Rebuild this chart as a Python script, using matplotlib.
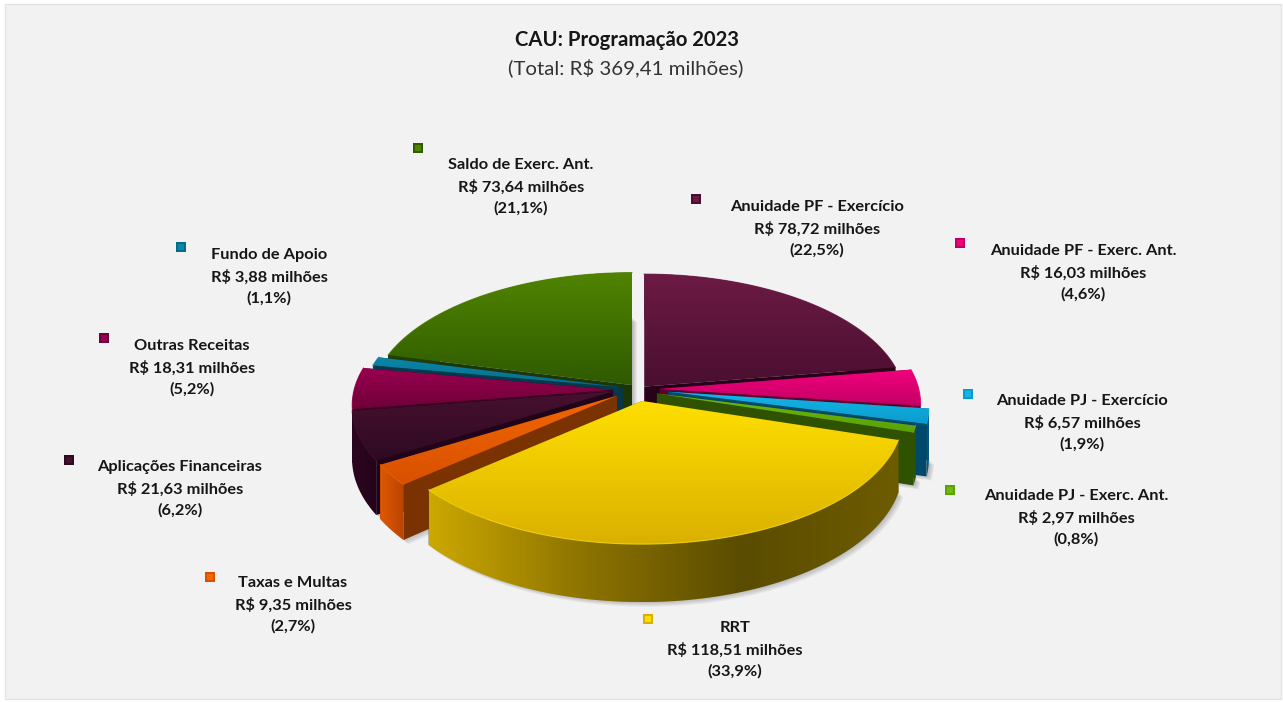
import numpy as np
import matplotlib
matplotlib.use("Agg")
import matplotlib.pyplot as plt
from matplotlib.colors import LinearSegmentedColormap
from matplotlib.patches import Polygon, Rectangle

plt.rcParams['font.family'] = ['Lato', 'DejaVu Sans']

# Data, clockwise from 12 o'clock
labels = ['Anuidade PF - Exercício', 'Anuidade PF - Exerc. Ant.', 'Anuidade PJ - Exercício',
          'Anuidade PJ - Exerc. Ant.', 'RRT', 'Taxas e Multas', 'Aplicações Financeiras',
          'Outras Receitas', 'Fundo de Apoio', 'Saldo de Exerc. Ant.']
values = [78.72, 16.03, 6.57, 2.97, 118.51, 9.35, 21.63, 18.31, 3.88, 73.64]
percents = ['22,5', '4,6', '1,9', '0,8', '33,9', '2,7', '6,2', '5,2', '1,1', '21,1']
explode = [0.025, 0.08, 0.114, 0.072, 0.097, 0.105, 0.107, 0.10, 0.065, 0.044]
title = 'CAU: Programação 2023'
subtitle = '(Total: R$ 369,41 milhões)'

# Colours: top gradient (light, dark), side wall, rim wall gradient
top_colors = [('#6c1a44', '#4a0f30'), ('#f2007c', '#c20064'), ('#14b6e8', '#0a9ccc'),
              ('#6eba0a', '#5aa008'), ('#ffdf00', '#dab000'), ('#f26600', '#d85000'),
              ('#46102f', '#2e0a22'), ('#9a0050', '#6e0038'), ('#0a88aa', '#086a88'),
              ('#508400', '#2f5a00')]
side_colors = ['#26031a', '#5c0030', '#00496a', '#2f5200', '#5a4c00', '#7a3200',
               '#22041a', '#3c0022', '#04384a', '#1c3608']
rim_colors = [('#3a0826', '#2a0418'), ('#8a0048', '#6a0038'), ('#005a80', '#004f70'),
              ('#305400', '#2e5200'),
              ('#cca800', '#8c7200', '#5a4c00', '#6e5c00'),
              ('#e05800', '#b84400'), ('#2c0620', '#24041a'), ('#4a0028', '#3c0022'),
              ('#04485e', '#04384a'), ('#20400a', '#1c3608')]

# Pie geometry in image pixels
CX, CY = 639, 388
A, B = 259, 126
K = 0.12
H = 51
# small per-slice corrections to the explode offset
nudge = [(1, 1), (0, 1), (0, 1), (0, 3), (-2, 1), (0, 0), (0, -1), (0, 2), (0, 1), (0, 1.5)]

# Label positions (x centre, first line y) and key positions
label_pos = [(817, 207), (1083, 251), (1082, 401), (1076, 496), (735, 628),
             (293, 583), (180, 467), (192, 346), (269, 255), (521, 165)]
key_pos = [(696, 199), (960, 243), (968, 394), (950, 490), (648, 619),
           (210, 577), (69, 460), (104, 338), (181, 247), (418, 148)]
draw_order = [0, 9, 8, 7, 1, 2, 3, 6, 5, 4]

fig = plt.figure(figsize=(12.83, 7.02), dpi=100, facecolor='white')
ax = fig.add_axes([0, 0, 1, 1])
ax.axis('off')


def rim(apex, t1, t2, drop=0.0):
    # Rim points of one slice between two angles, seen with perspective
    th = np.radians(np.linspace(t1, t2, 90))
    s = 1 / (1 + K * np.cos(th))
    return np.column_stack([apex[0] + A * np.sin(th) * s,
                            apex[1] - B * np.cos(th) * s + drop * s])


def grad_fill(verts, colors, horizontal=False, z=2):
    verts = np.asarray(verts)
    cmap = LinearSegmentedColormap.from_list('g', colors)
    grad = np.linspace(0, 1, 256)
    grad = grad.reshape(1, -1) if horizontal else grad.reshape(-1, 1)
    x0, y0 = verts.min(axis=0)
    x1, y1 = verts.max(axis=0)
    im = ax.imshow(grad, cmap=cmap, extent=(x0, x1, y1, y0), origin='upper',
                   aspect='auto', zorder=z, interpolation='bilinear')
    clip = Polygon(verts, closed=True, transform=ax.transData)
    im.set_clip_path(clip)


ax.add_patch(Rectangle((5, 4), 1276, 695, facecolor='#f2f2f2', edgecolor='#e4e4e4',
                       linewidth=1, zorder=0))

# Angles from the values
edges = np.concatenate([[0], np.cumsum(values)]) / np.sum(values) * 360
apexes = []
for i in range(len(values)):
    mid = np.radians((edges[i] + edges[i + 1]) / 2)
    apexes.append((CX + A * explode[i] * np.sin(mid) + nudge[i][0],
                   CY - B * explode[i] * np.cos(mid) + nudge[i][1]))

# Soft shadow on the floor
for i in range(len(values)):
    for j in range(5):
        arc = rim(apexes[i], edges[i], edges[i + 1], H + j)
        base = np.vstack([[apexes[i][0], apexes[i][1] + H + j], arc])
        base[:, 0] += 1 + j
        ax.add_patch(Polygon(base, closed=True, facecolor='#505050', edgecolor='none',
                             alpha=0.08, zorder=1))

z = 2
for i in draw_order:
    apex = apexes[i]
    arc = rim(apex, edges[i], edges[i + 1])
    low = rim(apex, edges[i], edges[i + 1], H)
    low_apex = (apex[0], apex[1] + H)
    # side walls
    for p, q in ((arc[0], low[0]), (arc[-1], low[-1])):
        ax.add_patch(Polygon([apex, p, q, low_apex], closed=True, facecolor=side_colors[i],
                             edgecolor='none', zorder=z))
    # outer wall
    z += 1
    grad_fill(np.vstack([arc, low[::-1]]), rim_colors[i], horizontal=True, z=z)
    # top face
    z += 1
    grad_fill(np.vstack([apex, arc]), top_colors[i], z=z)
    ax.plot(arc[:, 0], arc[:, 1], color=top_colors[i][0], lw=0.8, alpha=0.7, zorder=z + 0.5)
    z += 1

# Labels and keys
for i, lab in enumerate(labels):
    x, y = label_pos[i]
    for k, line in enumerate([lab, 'R$ %.2f milhões' % values[i], '(%s%%)' % percents[i]]):
        line = line.replace('.', ',') if k == 1 else line
        ax.text(x, y + k * 21.7, line, ha='center', va='center', fontsize=11.8,
                fontweight='bold', color='#161616', zorder=100)
    kx, ky = key_pos[i]
    ax.scatter([kx], [ky], marker='s', s=58, color=top_colors[i][1], edgecolors='none', zorder=100)
    ax.scatter([kx], [ky], marker='s', s=14, color=top_colors[i][0], edgecolors='none', zorder=101)

ax.text(627, 40, title, ha='center', va='center', fontsize=14.6, fontweight='bold',
        color='#161616', zorder=100)
ax.text(626, 67.5, subtitle, ha='center', va='center', fontsize=14.7, color='#333333', zorder=100)

ax.set_xlim(0, 1283)
ax.set_ylim(702, 0)
fig.savefig('out.png', dpi=100)
plt.close(fig)
